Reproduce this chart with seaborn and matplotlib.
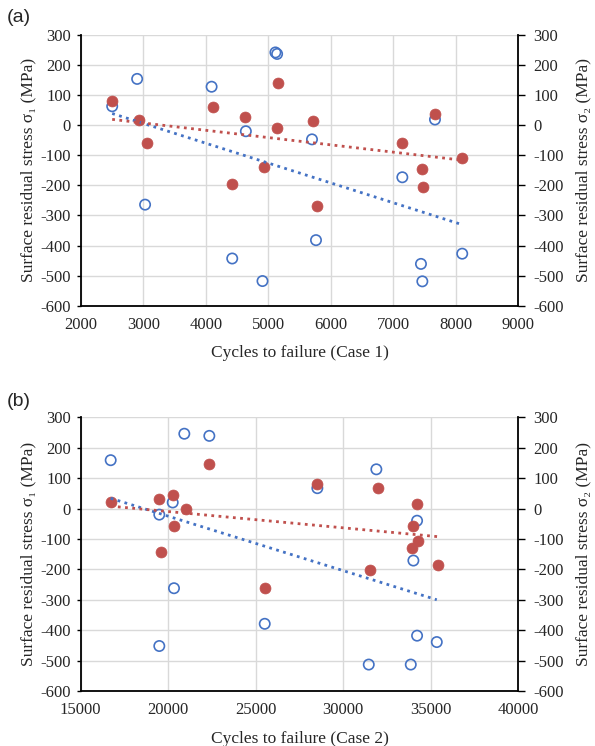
import numpy as np
import pandas as pd
import matplotlib
matplotlib.use("Agg")
import matplotlib.pyplot as plt
import seaborn as sns

# ---- data ----
a_x1 = [2504, 2903, 3030, 4094, 4642, 4424, 4908, 5115, 5142, 5700, 5764, 7145, 7667, 7443, 7465, 8103]
a_s1 = [63, 154, -264, 128, -20, -443, -518, 242, 237, -47, -382, -173, 19, -461, -519, -427]
a_x2 = [2504, 2925, 3053, 4115, 4636, 4424, 4928, 5158, 5136, 5721, 5774, 7145, 7667, 7460, 7480, 8103]
a_s2 = [80, 19, -59, 62, 28, -196, -138, 141, -8, 14, -269, -59, 37, -147, -204, -108]

b_x1 = [16714, 19491, 20257, 20920, 22349, 20331, 25514, 19491, 28520, 31891, 34217, 34006, 34217, 35343, 31457, 33857]
b_s1 = [159, -20, 20, 246, 239, -262, -379, -452, 67, 129, -40, -171, -418, -439, -513, -513]
b_x2 = [16714, 19491, 20257, 21000, 20331, 19571, 22349, 25514, 28520, 31971, 34234, 34006, 34291, 33931, 31514, 35434]
b_s2 = [20, 30, 43, -1, -57, -144, 147, -262, 81, 68, 15, -57, -106, -131, -201, -187]

y_ticks = [-600, -500, -400, -300, -200, -100, 0, 100, 200, 300]
a_xticks = [2000, 3000, 4000, 5000, 6000, 7000, 8000, 9000]
b_xticks = [15000, 20000, 25000, 30000, 35000, 40000]

BLUE = "#4472C4"
RED = "#C0504D"
SERIF = ["Liberation Serif", "DejaVu Serif"]
TICK_FS = 12
LAB_FS = 12.5

sns.set_theme(style="white")
plt.rcParams["font.family"] = SERIF

fig = plt.figure(figsize=(5.95, 7.46), dpi=100)


def panel(rect, x1, s1, x2, s2, xticks, xlabel, tag, tagy):
    ax = fig.add_axes(rect)
    d1 = pd.DataFrame({"x": x1, "y": s1})
    d2 = pd.DataFrame({"x": x2, "y": s2})
    ax.set_axisbelow(True)
    ax.grid(True, color="#d9d9d9", lw=1.0)
    sns.scatterplot(data=d1, x="x", y="y", ax=ax, marker="o", s=55,
                    facecolors="none", edgecolor=BLUE, linewidth=1.2, zorder=3)
    sns.scatterplot(data=d2, x="x", y="y", ax=ax, marker="o", s=62,
                    color=RED, edgecolor=RED, linewidth=0.5, zorder=4)
    sns.regplot(data=d1, x="x", y="y", ax=ax, scatter=False, ci=None,
                line_kws=dict(color=BLUE, lw=2.0, ls=(0, (1, 1.6)), zorder=5))
    sns.regplot(data=d2, x="x", y="y", ax=ax, scatter=False, ci=None,
                line_kws=dict(color=RED, lw=2.0, ls=(0, (1, 1.6)), zorder=5))
    ax.set_xlim(xticks[0], xticks[-1])
    ax.set_ylim(-600, 300)
    ax.set_xticks(xticks)
    ax.set_yticks(y_ticks)
    ax.set_xticklabels([str(t) for t in xticks], fontsize=TICK_FS)
    ax.set_yticklabels([str(t) for t in y_ticks], fontsize=TICK_FS)
    ax.set_xlabel(xlabel, fontsize=LAB_FS, labelpad=9)
    ax.set_ylabel("Surface residual stress σ₁ (MPa)", fontsize=LAB_FS, labelpad=3)
    ax.spines["top"].set_visible(False)
    ax.spines["right"].set_visible(False)
    for s in ["left", "bottom"]:
        ax.spines[s].set_color("black")
        ax.spines[s].set_linewidth(1.3)
    ax.tick_params(axis="y", which="both", left=True, length=3, width=1.0,
                   color="black", direction="out", pad=4)
    ax.tick_params(axis="x", bottom=False, pad=2)

    ax2 = ax.twinx()
    ax2.set_ylim(-600, 300)
    ax2.set_yticks(y_ticks)
    ax2.set_yticklabels([str(t) for t in y_ticks], fontsize=TICK_FS)
    ax2.grid(False)
    for s in ["top", "left", "bottom"]:
        ax2.spines[s].set_visible(False)
    ax2.spines["right"].set_color("black")
    ax2.spines["right"].set_linewidth(1.3)
    ax2.tick_params(axis="y", right=True, length=5, width=1.0, color="black",
                    direction="out", pad=6)
    ax2.set_ylabel("Surface residual stress σ₂ (MPa)", fontsize=LAB_FS, labelpad=8)

    fig.text(0.012, tagy, tag, fontsize=14, family=["Liberation Sans", "DejaVu Sans"],
             ha="left", va="center")
    return ax


panel([0.1356, 0.5902, 0.7355, 0.3629], a_x1, a_s1, a_x2, a_s2, a_xticks,
      "Cycles to failure (Case 1)", "(a)", 0.976)
panel([0.1356, 0.0737, 0.7355, 0.3669], b_x1, b_s1, b_x2, b_s2, b_xticks,
      "Cycles to failure (Case 2)", "(b)", 0.462)

fig.savefig("out.png", dpi=100)
